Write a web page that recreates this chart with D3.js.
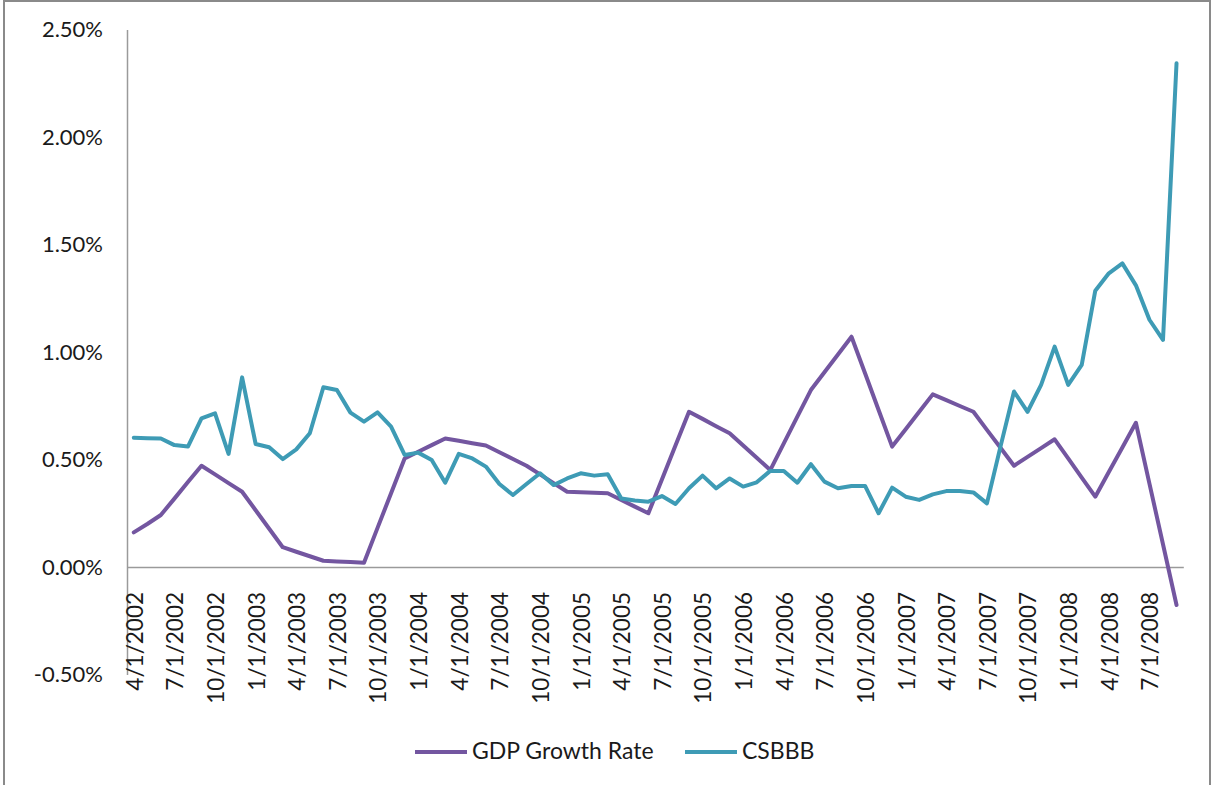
<!DOCTYPE html>
<html>
<head>
<meta charset="utf-8">
<script src="https://cdn.jsdelivr.net/npm/d3@7"></script>
<style>
  html, body { margin: 0; padding: 0; background: #fff; }
  svg { display: block; }
  text { font-family: Lato, "Open Sans", sans-serif; fill: #1a1a1a; }
</style>
</head>
<body>
<svg id="chart" width="1213" height="785"></svg>
<script>
const categories = [
  "4/1/2002","5/1/2002","6/1/2002","7/1/2002","8/1/2002","9/1/2002","10/1/2002","11/1/2002","12/1/2002",
  "1/1/2003","2/1/2003","3/1/2003","4/1/2003","5/1/2003","6/1/2003","7/1/2003","8/1/2003","9/1/2003","10/1/2003","11/1/2003","12/1/2003",
  "1/1/2004","2/1/2004","3/1/2004","4/1/2004","5/1/2004","6/1/2004","7/1/2004","8/1/2004","9/1/2004","10/1/2004","11/1/2004","12/1/2004",
  "1/1/2005","2/1/2005","3/1/2005","4/1/2005","5/1/2005","6/1/2005","7/1/2005","8/1/2005","9/1/2005","10/1/2005","11/1/2005","12/1/2005",
  "1/1/2006","2/1/2006","3/1/2006","4/1/2006","5/1/2006","6/1/2006","7/1/2006","8/1/2006","9/1/2006","10/1/2006","11/1/2006","12/1/2006",
  "1/1/2007","2/1/2007","3/1/2007","4/1/2007","5/1/2007","6/1/2007","7/1/2007","8/1/2007","9/1/2007","10/1/2007","11/1/2007","12/1/2007",
  "1/1/2008","2/1/2008","3/1/2008","4/1/2008","5/1/2008","6/1/2008","7/1/2008","8/1/2008","9/1/2008"
];

// values in percent
const gdpGrowthRate = [
  0.161, 0.200, 0.242, 0.318, 0.395, 0.471, 0.431, 0.390, 0.350,
  0.264, 0.178, 0.092, 0.071, 0.050, 0.029, 0.026, 0.023, 0.020, 0.182, 0.343, 0.505,
  0.536, 0.567, 0.598, 0.587, 0.576, 0.565, 0.534, 0.502, 0.471, 0.431, 0.390, 0.350,
  0.348, 0.345, 0.343, 0.312, 0.281, 0.250, 0.407, 0.565, 0.722, 0.689, 0.655, 0.622,
  0.565, 0.508, 0.451, 0.575, 0.699, 0.823, 0.906, 0.988, 1.071, 0.901, 0.730, 0.560,
  0.641, 0.722, 0.803, 0.776, 0.749, 0.722, 0.638, 0.555, 0.471, 0.512, 0.553, 0.594,
  0.505, 0.416, 0.327, 0.442, 0.556, 0.671, 0.388, 0.106, -0.177
];

const csbbb = [
  0.601, 0.599, 0.598, 0.567, 0.560, 0.691, 0.715, 0.526, 0.882,
  0.572, 0.557, 0.502, 0.547, 0.622, 0.836, 0.823, 0.718, 0.676, 0.719, 0.653, 0.521,
  0.532, 0.498, 0.392, 0.526, 0.505, 0.467, 0.386, 0.335, 0.386, 0.436, 0.381, 0.412,
  0.436, 0.425, 0.431, 0.319, 0.309, 0.304, 0.330, 0.293, 0.366, 0.425, 0.366, 0.412,
  0.374, 0.394, 0.447, 0.447, 0.392, 0.478, 0.397, 0.366, 0.377, 0.377, 0.250, 0.369,
  0.327, 0.312, 0.338, 0.353, 0.353, 0.347, 0.296, 0.560, 0.816, 0.722, 0.847, 1.025,
  0.847, 0.940, 1.285, 1.366, 1.412, 1.310, 1.150, 1.056, 2.343
];

const tickLabels = [
  "4/1/2002","7/1/2002","10/1/2002","1/1/2003","4/1/2003","7/1/2003","10/1/2003",
  "1/1/2004","4/1/2004","7/1/2004","10/1/2004","1/1/2005","4/1/2005","7/1/2005","10/1/2005",
  "1/1/2006","4/1/2006","7/1/2006","10/1/2006","1/1/2007","4/1/2007","7/1/2007","10/1/2007",
  "1/1/2008","4/1/2008","7/1/2008"
];
const yTicks = [-0.5, 0, 0.5, 1.0, 1.5, 2.0, 2.5];
const seriesNames = ["GDP Growth Rate", "CSBBB"];
const seriesColors = ["#7356a0", "#3e9bb5"];

const svg = d3.select("#chart");

// outer chart frame
svg.append("rect")
  .attr("x", 4).attr("y", 1).attr("width", 1206).attr("height", 800)
  .attr("fill", "none").attr("stroke", "#8a8a8a").attr("stroke-width", 2);

const plotLeft = 127, plotRight = 1183.3, plotTop = 29.5, plotBottom = 674.5;

const x = d3.scaleBand().domain(categories).range([plotLeft, plotRight]).padding(0);
const cx = c => x(c) + x.bandwidth() / 2;
const y = d3.scaleLinear().domain([-0.5, 2.5]).range([plotBottom, plotTop]);

// y axis
const yAxis = svg.append("g")
  .attr("transform", `translate(${plotLeft},0)`)
  .call(d3.axisLeft(y).tickValues(yTicks).tickSize(0).tickPadding(24)
    .tickFormat(d => (d < 0 ? "-" : "") + Math.abs(d).toFixed(2) + "%"));
yAxis.select(".domain").attr("stroke", "#9a9a9a").attr("stroke-width", 1.5);
yAxis.selectAll("text").style("font-size", "22px").style("font-family", "Lato, sans-serif").attr("fill", "#1a1a1a");

// zero line (horizontal category axis)
const xAxis = svg.append("g")
  .attr("transform", `translate(0,${y(0)})`)
  .call(d3.axisBottom(x).tickValues(tickLabels).tickSize(0).tickPadding(0));
xAxis.select(".domain").attr("stroke", "#9a9a9a").attr("stroke-width", 1.5);
xAxis.selectAll("text")
  .attr("transform", "rotate(-90)")
  .attr("text-anchor", "end")
  .attr("x", -(592 - y(0)))
  .attr("y", 1)
  .attr("dy", "0.35em")
  .style("font-size", "22.5px")
  .style("font-family", "Lato, sans-serif")
  .attr("fill", "#1a1a1a");

// lines
const line = d3.line().x((d, i) => cx(categories[i])).y(d => y(d));
[gdpGrowthRate, csbbb].forEach((s, k) => {
  svg.append("path")
    .datum(s)
    .attr("d", line)
    .attr("fill", "none")
    .attr("stroke", seriesColors[k])
    .attr("stroke-width", 4)
    .attr("stroke-linejoin", "round")
    .attr("stroke-linecap", "round");
});

// legend
const legendItems = [
  { x0: 415, tx: 472 },
  { x0: 685, tx: 742 }
];
legendItems.forEach((p, k) => {
  svg.append("line")
    .attr("x1", p.x0).attr("x2", p.x0 + 52)
    .attr("y1", 752).attr("y2", 752)
    .attr("stroke", seriesColors[k]).attr("stroke-width", 4);
  svg.append("text")
    .attr("x", p.tx).attr("y", 751).attr("dy", "0.35em")
    .style("font-size", "23px")
    .text(seriesNames[k]);
});
</script>
</body>
</html>
